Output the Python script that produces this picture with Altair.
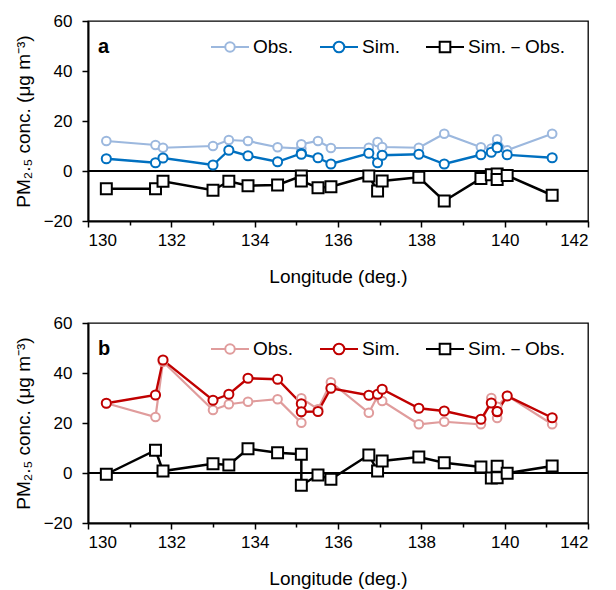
import altair as alt
import pandas as pd

# ---- data ----
LON = [130.44, 131.62, 131.80, 133.00, 133.38, 133.84, 134.55, 135.12, 135.12, 135.52, 135.83,
       136.74, 136.95, 137.06, 137.94, 138.55, 139.43, 139.68, 139.82, 139.82, 140.06, 141.14]

A_OBS = [12.0, 10.4, 9.3, 10.0, 12.4, 12.0, 9.5, 9.0, 10.7, 12.0, 9.2,
         9.3, 11.6, 9.6, 9.3, 14.9, 9.5, 9.0, 10.8, 12.7, 8.3, 14.9]
A_SIM = [4.9, 3.3, 5.2, 2.4, 8.3, 6.1, 3.7, 7.0, 6.7, 5.3, 2.8,
         7.1, 3.3, 6.3, 6.7, 2.8, 6.5, 7.5, 9.6, 9.3, 6.5, 5.3]
A_DIFF = [-7.1, -7.1, -4.1, -7.7, -4.1, -5.9, -5.6, -2.0, -4.0, -6.7, -6.3,
          -2.0, -8.0, -4.0, -2.5, -12.0, -3.0, -1.5, -1.2, -3.4, -1.8, -9.7]

B_OBS = [27.9, 22.4, 44.5, 25.2, 27.5, 28.5, 29.5, 20.1, 29.9, 25.5, 36.3,
         24.1, 30.7, 28.8, 19.5, 20.5, 19.5, 30.0, 22.0, 26.5, 30.9, 19.5]
B_SIM = [27.9, 31.2, 45.2, 29.1, 31.5, 37.9, 37.5, 27.7, 24.5, 24.6, 33.9,
         31.1, 31.5, 33.5, 25.9, 24.8, 21.5, 28.0, 24.5, 24.6, 30.8, 22.1]
B_DIFF = [-0.5, 9.1, 0.8, 3.7, 3.2, 9.7, 8.1, 7.5, -4.9, -0.8, -2.5,
          7.2, 0.8, 4.8, 6.4, 4.1, 2.4, -2.0, 2.7, -1.9, -0.1, 2.8]

SERIES = ["Obs.", "Sim.", "Sim.\uff0dObs."]
COLORS_A = ["#9CB8DE", "#0070C0", "#000000"]
COLORS_B = ["#E09C9C", "#C00000", "#000000"]
PANEL_LABELS = ["a", "b"]
X_TICKS = list(range(130, 143))
Y_TICKS = list(range(-20, 61, 10))
X_TITLE = "Longitude (deg.)"
Y_TITLE = "PM\u2082.\u2085 conc. (\u03bcg m\u207b\u00b3)"

FONT = "Liberation Sans"


def circ(r):
    return (f"M -1 0 L {-r} 0 M {r} 0 L 1 0 M {-r} 0 "
            f"A {r} {r} 0 1 0 {r} 0 A {r} {r} 0 1 0 {-r} 0 Z")


def sq(r):
    return (f"M -1 0 L {-r} 0 M {r} 0 L 1 0 M {-r} {-r} "
            f"L {r} {-r} L {r} {r} L {-r} {r} Z")


LEGEND_SHAPES = [circ(0.25), circ(0.28), sq(0.28)]


def panel(obs, sim, diff, colors, label):
    rows = []
    for s, vals in zip(SERIES, [obs, sim, diff]):
        for i, (lon, v) in enumerate(zip(LON, vals)):
            rows.append({"lon": lon, "value": v, "series": s, "idx": i})
    df = pd.DataFrame(rows)

    leg = alt.Legend(
        orient="none", legendX=122, legendY=6, direction="horizontal",
        symbolSize=1444, symbolStrokeWidth=2, labelFontSize=19, labelFont=FONT,
        labelColor="#000", columnPadding=22, labelOffset=3, title=None,
        symbolFillColor="white", labelLimit=300,
    )
    color = alt.Color("series:N", scale=alt.Scale(domain=SERIES, range=colors),
                      legend=leg, title=None)
    x = alt.X("lon:Q",
              scale=alt.Scale(domain=[130, 142], nice=False, zero=False),
              axis=alt.Axis(values=X_TICKS, title=X_TITLE,
                            labelExpr="datum.value % 2 === 0 ? datum.label : ''",
                            tickSize={"condition": {"test": "datum.value % 2 === 0", "value": 6}, "value": 4},
                            grid=False, labelPadding=5, titlePadding=19))
    y = alt.Y("value:Q",
              scale=alt.Scale(domain=[-20, 60], nice=False, zero=False),
              axis=alt.Axis(values=Y_TICKS, title=Y_TITLE,
                            labelExpr="datum.value % 20 === 0 ? datum.label : ''",
                            tickSize={"condition": {"test": "datum.value % 20 === 0", "value": 6}, "value": 4},
                            grid=False, labelPadding=10, titlePadding=10))

    base = alt.Chart(df)

    zero = alt.Chart(pd.DataFrame({"z": [0]})).mark_rule(color="#000", strokeWidth=2).encode(
        y=alt.Y("z:Q"))

    lines = base.mark_line().encode(
        x=x, y=y, color=color,
        strokeWidth=alt.StrokeWidth("series:N", scale=alt.Scale(domain=SERIES, range=[2.2, 2.5, 2.2]),
                                    legend=None),
        order=alt.Order("idx:Q"))

    circles = base.transform_filter(
        alt.FieldOneOfPredicate(field="series", oneOf=SERIES[:2])
    ).mark_point(shape="circle", filled=False, fill="white", fillOpacity=1, strokeWidth=2, opacity=1).encode(
        x="lon:Q", y="value:Q", color=color,
        size=alt.Size("series:N", scale=alt.Scale(domain=SERIES, range=[75, 92, 120]), legend=None))

    squares = base.transform_filter(
        alt.FieldEqualPredicate(field="series", equal=SERIES[2])
    ).mark_point(shape="square", filled=False, fill="white", fillOpacity=1, strokeWidth=2, opacity=1, size=120).encode(
        x="lon:Q", y="value:Q", color=color)

    legend_layer = base.transform_filter("datum.value > 1000").mark_point(
        filled=False, fill="white", strokeWidth=2, opacity=1).encode(
        x="lon:Q", y="value:Q", color=color,
        shape=alt.Shape("series:N", scale=alt.Scale(domain=SERIES, range=LEGEND_SHAPES),
                        legend=leg, title=None))

    txt = alt.Chart(pd.DataFrame({"t": [label]})).mark_text(
        fontSize=20, fontWeight="bold", font=FONT, align="left", baseline="middle", color="#000"
    ).encode(text="t:N", x=alt.value(10), y=alt.value(26))

    return alt.layer(zero, lines, circles, squares, legend_layer, txt).resolve_scale(
        strokeWidth="independent", size="independent"
    ).properties(width=500, height=200)


pa = panel(A_OBS, A_SIM, A_DIFF, COLORS_A, PANEL_LABELS[0])
pb = panel(B_OBS, B_SIM, B_DIFF, COLORS_B, PANEL_LABELS[1])

chart = alt.vconcat(pa, pb, spacing=26).resolve_scale(
    color="independent", shape="independent"
).resolve_legend(color="independent", shape="independent").configure_view(
    stroke="#000", strokeWidth=1.3
).configure_axis(
    domainColor="#000", domainWidth=2, tickColor="#000", tickWidth=1.5,
    labelFont=FONT, labelFontSize=17, labelColor="#000",
    titleFont=FONT, titleFontSize=19, titleFontWeight="normal", titleColor="#000",
).properties(padding={"left": 5, "top": 3, "right": 5, "bottom": 5}, background="white")

chart.save("out.html", embed_options={"renderer": "svg", "actions": False})
